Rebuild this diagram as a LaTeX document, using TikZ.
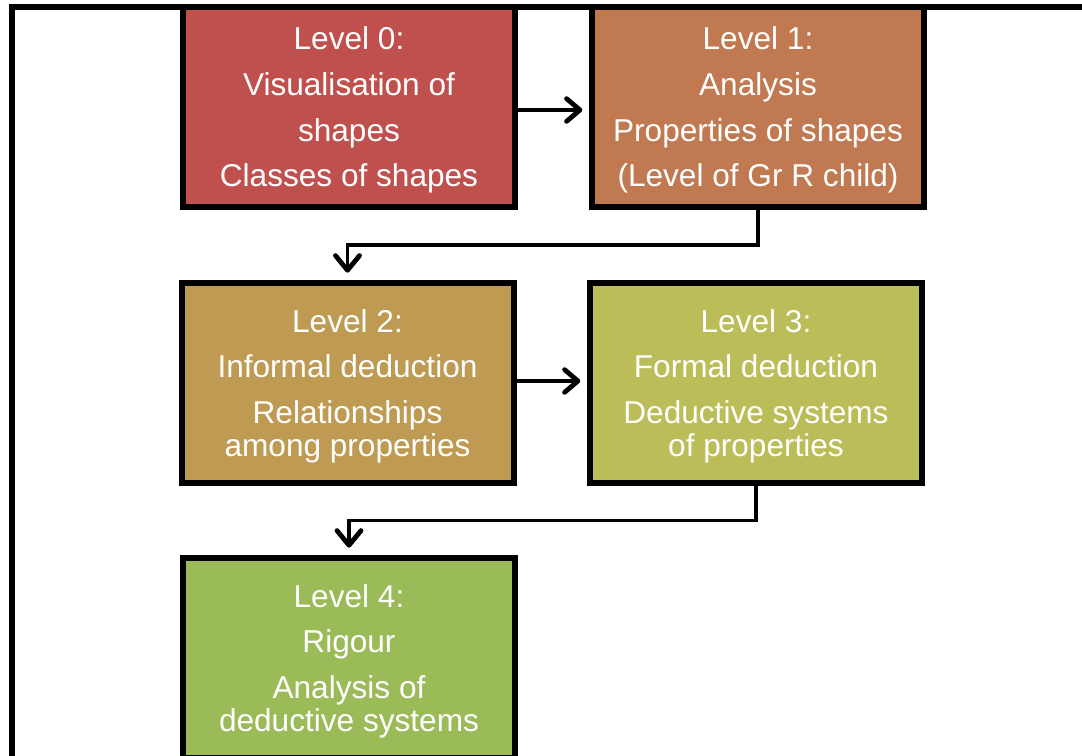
\documentclass[tikz,border=0pt]{standalone}
\usepackage{fontspec}
\setmainfont{Liberation Sans}
\usetikzlibrary{arrows.meta,calc}

\definecolor{lvlzero}{RGB}{192,80,77}
\definecolor{lvlone}{RGB}{192,121,80}
\definecolor{lvltwo}{RGB}{190,154,83}
\definecolor{lvlthree}{RGB}{187,189,88}
\definecolor{lvlfour}{RGB}{155,187,89}

\tikzset{
  levelbox/.style={draw=black, line width=4.5pt, minimum width=249pt, minimum height=150pt,
    inner sep=0pt, align=center, text=white,
    font=\fontsize{23.7}{24.8}\selectfont},
  flowarrow/.style={line width=3pt, -{Straight Barb[length=10pt,width=17pt,line width=3.6pt,round]}},
  elbowarrow/.style={line width=2.6pt, -{Straight Barb[length=11pt,width=18pt,line width=3.6pt,round]}},
}

\newcommand{\parskipline}{\\[9.4pt]}
\newcommand{\firstline}{\rule{0pt}{22pt}}

\begin{document}
\begin{tikzpicture}[x=0.75pt,y=-0.75pt]
  \useasboundingbox (0,0) rectangle (1082,756);
  \clip (0,0) rectangle (1082,756);

  % outer frame, running off the right and bottom edges
  \draw[line width=4.5pt] (12,900) -- (12,7) -- (1200,7);

  % the five levels
  \node[levelbox, fill=lvlzero] (b0) at (349,107)
    {\firstline Level 0:\parskipline Visualisation of\parskipline shapes\parskipline Classes of shapes};
  \node[levelbox, fill=lvlone] (b1) at (758,107)
    {\firstline Level 1:\parskipline Analysis\parskipline Properties of shapes\parskipline (Level of Gr R child)};
  \node[levelbox, fill=lvltwo] (b2) at (347.5,383)
    {\firstline Level 2:\parskipline Informal deduction\parskipline Relationships\\ among properties};
  \node[levelbox, fill=lvlthree] (b3) at (756,383)
    {\firstline Level 3:\parskipline Formal deduction\parskipline Deductive systems\\ of properties};
  \node[levelbox, fill=lvlfour] (b4) at (349,658)
    {\firstline Level 4:\parskipline Rigour\parskipline Analysis of\\ deductive systems};

  % connectors
  \draw[flowarrow, shorten >=5pt] (b0.east |- 0,110) -- (b1.west |- 0,110);
  \draw[flowarrow, shorten >=5pt] (b2.east |- 0,381) -- (b3.west |- 0,381);

  \coordinate (m1) at ($(b1.south)!0.5!(b2.north)$);
  \coordinate (m2) at ($(b3.south)!0.5!(b4.north)$);
  \draw[elbowarrow, shorten >=5.5pt] (b1.south) |- (m1) -| (b2.north);
  \draw[elbowarrow, shorten >=5.5pt] (b3.south) |- (m2) -| (b4.north);
\end{tikzpicture}
\end{document}
